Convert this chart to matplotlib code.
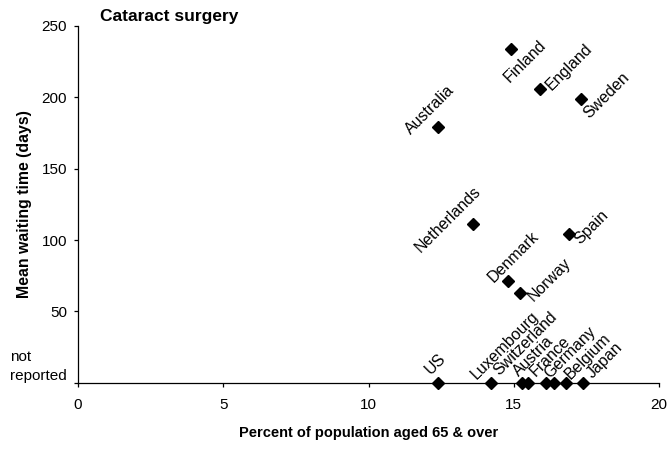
import matplotlib
matplotlib.use("Agg")
import matplotlib.pyplot as plt

plt.rcParams['font.family'] = ['Liberation Sans', 'DejaVu Sans']

# Data: share of population aged 65+ (%) vs mean waiting time for cataract surgery (days)
countries = ['Australia', 'Finland', 'England', 'Sweden', 'Netherlands', 'Spain',
             'Denmark', 'Norway', 'US', 'Luxembourg', 'Switzerland', 'Austria',
             'France', 'Germany', 'Belgium', 'Japan']
pct_65_over = [12.4, 14.9, 15.9, 17.3, 13.6, 16.9, 14.8, 15.2,
               12.4, 14.2, 15.3, 15.5, 16.1, 16.4, 16.8, 17.4]
wait_days = [179, 234, 206, 199, 111, 104, 71, 63,
             0, 0, 0, 0, 0, 0, 0, 0]   # 0 = not reported

x_ticks = [0, 5, 10, 15, 20]
y_ticks = [0, 50, 100, 150, 200, 250]
y_tick_labels = ['not\nreported', '50', '100', '150', '200', '250']

# label centre offsets from each marker, in pixels (right, up)
label_offsets = {
    'Australia': (-8.6, 17.7), 'Finland': (14.7, -12.9), 'England': (29.6, 21.6),
    'Sweden': (25.7, 3.5), 'Netherlands': (-24.7, 5.3), 'Spain': (22.5, 7.5),
    'Denmark': (6, 25), 'Norway': (30.4, 13), 'US': (-2.5, 18.5),
    'Luxembourg': (14.3, 37.7), 'Switzerland': (3, 38.7), 'Austria': (5, 27),
    'France': (4.7, 26.9), 'Germany': (16, 30), 'Belgium': (21.8, 26.9),
    'Japan': (21.5, 21.9),
}

fig = plt.figure(figsize=(6.68, 4.51), dpi=100)
ax = fig.add_axes([78 / 668, 1 - 382.7 / 451, (659 - 78) / 668, (382.7 - 26) / 451])

ax.plot(pct_65_over, wait_days, linestyle='none', marker='D', markersize=5.8,
        color='black', clip_on=False, zorder=3)

for name, xv, yv in zip(countries, pct_65_over, wait_days):
    dx, dy = label_offsets[name]
    ax.annotate(name, xy=(xv, yv), xytext=(dx, dy), textcoords='offset pixels',
                ha='center', va='center', rotation=45, rotation_mode='anchor',
                fontsize=11.5, color='black', zorder=4)

ax.set_xlim(0, 20)
ax.set_ylim(0, 250)
ax.set_xticks(x_ticks)
ax.set_yticks(y_ticks)
ax.set_yticklabels(y_tick_labels)
ylab0 = ax.get_yticklabels()[0]
ylab0.set_verticalalignment('bottom')
ylab0.set_multialignment('left')
ylab0.set_linespacing(1.4)

for side in ('top', 'right'):
    ax.spines[side].set_visible(False)
for side in ('left', 'bottom'):
    ax.spines[side].set_linewidth(0.9)

ax.tick_params(axis='x', direction='out', length=3, width=0.9, pad=8, labelsize=11)
ax.tick_params(axis='y', direction='out', length=3, width=0.9, pad=5, labelsize=11)

ax.set_xlabel('Percent of population aged 65 & over', fontsize=10.5,
              fontweight='bold', labelpad=10)
ax.set_ylabel('Mean waiting time (days)', fontsize=11.4, fontweight='bold')
ax.yaxis.set_label_coords(-0.079, 0.5)

fig.text(100 / 668, 1 - 20.7 / 451, 'Cataract surgery', ha='left', va='baseline',
         fontsize=12.5, fontweight='bold')

fig.savefig('out.png', dpi=100)
